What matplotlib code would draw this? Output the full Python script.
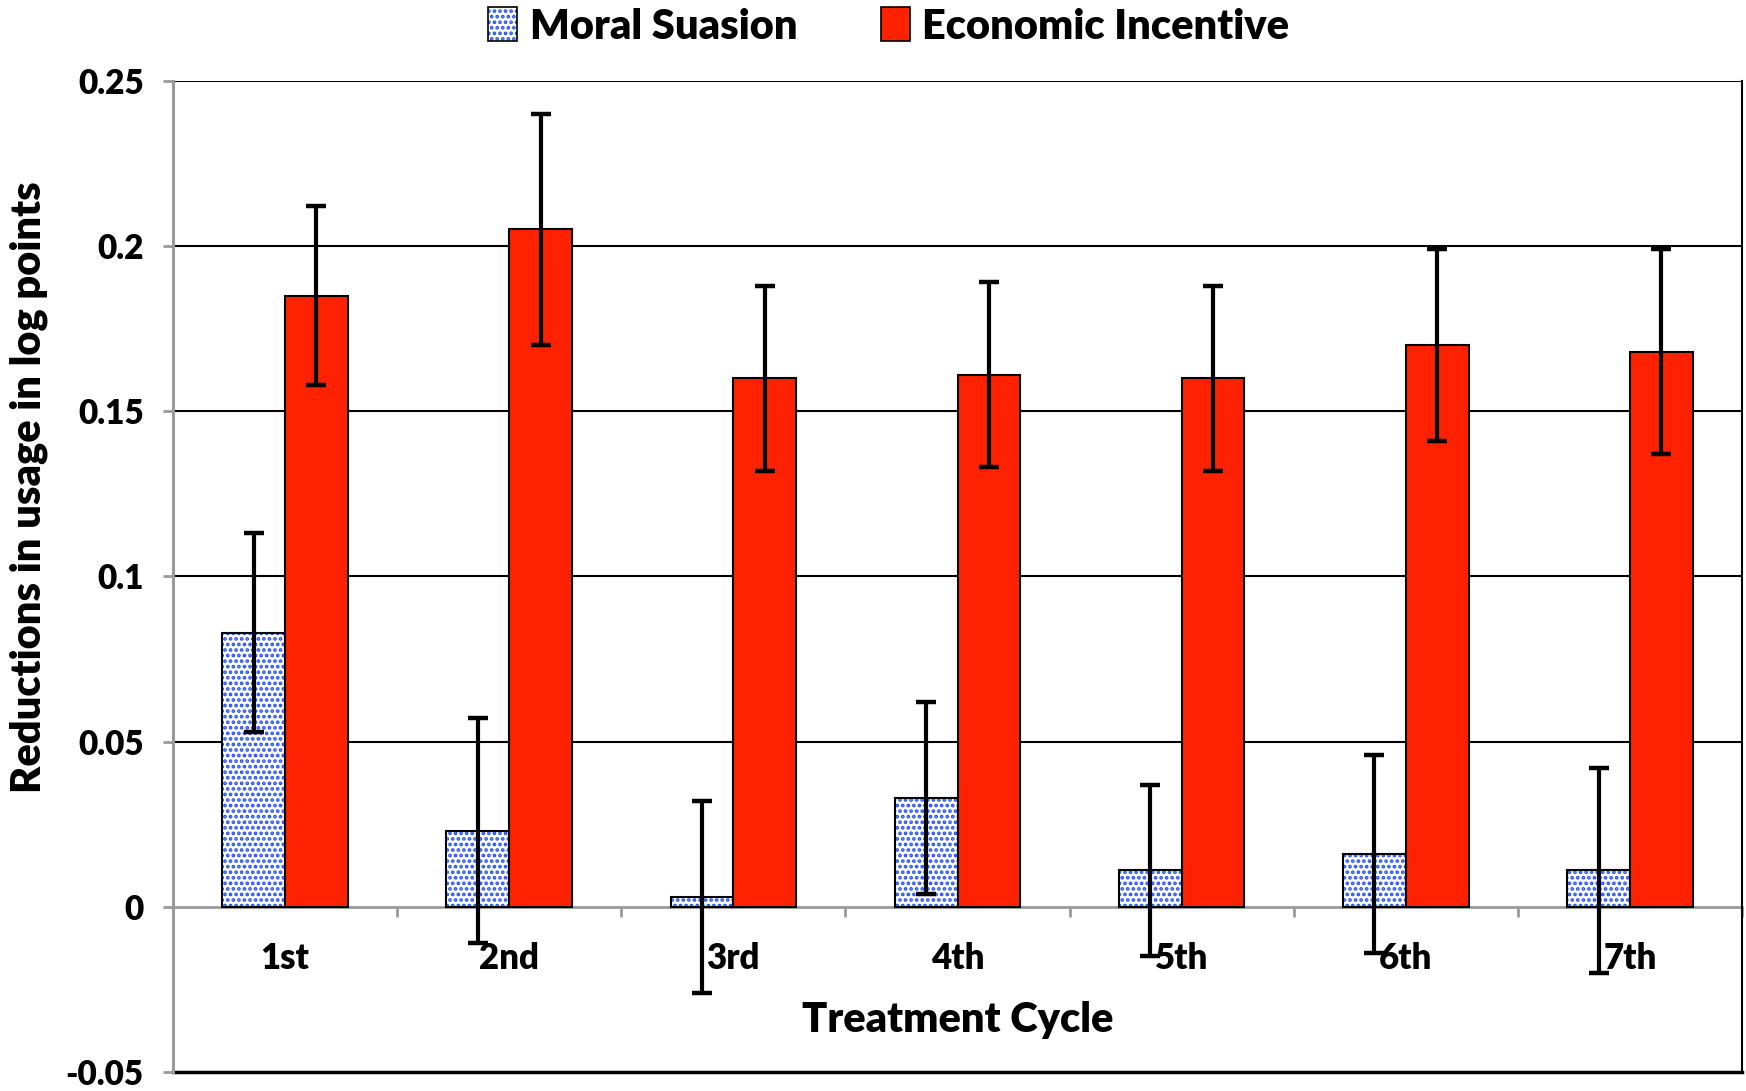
import matplotlib.pyplot as plt
import numpy as np
from matplotlib.patches import Patch
from matplotlib.legend_handler import HandlerTuple

cycles = ["1st", "2nd", "3rd", "4th", "5th", "6th", "7th"]
moral = [0.083, 0.023, 0.003, 0.033, 0.011, 0.016, 0.011]
moral_err = [0.030, 0.034, 0.029, 0.029, 0.026, 0.030, 0.031]
econ = [0.185, 0.205, 0.160, 0.161, 0.160, 0.170, 0.168]
econ_err = [0.027, 0.035, 0.028, 0.028, 0.028, 0.029, 0.031]

plt.rcParams["font.family"] = ["Lato", "DejaVu Sans"]
plt.rcParams["font.weight"] = "heavy"
plt.rcParams["hatch.linewidth"] = 1.8

fig = plt.figure(figsize=(17.46, 10.91), dpi=100)
ax = fig.add_axes([0.0991, 0.0174, 0.8986, 0.9086])

x = np.arange(len(cycles))
w = 0.28
red = "#ff2200"
dot_blue = "#1f4cff"

# moral suasion: dotted fill drawn first, black outline on top
ax.bar(x - w / 2, moral, w, color="white", edgecolor=dot_blue, hatch="...", linewidth=0, zorder=3)
ax.bar(x - w / 2, moral, w, fill=False, edgecolor="black", linewidth=1.5, zorder=3)
ax.bar(x + w / 2, econ, w, color=red, edgecolor="black", linewidth=1.5, zorder=3)

ekw = dict(fmt="none", ecolor="black", elinewidth=3, capsize=7, capthick=3.2, zorder=4)
ax.errorbar(x - w / 2, moral, yerr=moral_err, **ekw)
ax.errorbar(x + w / 2, econ, yerr=econ_err, **ekw)

ax.set_xlim(-0.5, len(cycles) - 0.5)
ax.set_ylim(-0.05, 0.25)
ax.set_yticks([-0.05, 0, 0.05, 0.1, 0.15, 0.2, 0.25])
ax.set_yticklabels(["-0.05", "0", "0.05", "0.1", "0.15", "0.2", "0.25"])
for yv in [0.05, 0.1, 0.15, 0.2, 0.25]:
    ax.axhline(yv, color="black", linewidth=1.5, zorder=1)
ax.axhline(-0.05, color="black", linewidth=2.5, zorder=1, clip_on=False)

ax.spines["bottom"].set_position(("data", 0))
ax.spines["bottom"].set_color("#9a9a9a")
ax.spines["bottom"].set_linewidth(2)
ax.spines["bottom"].set_zorder(2)
ax.spines["left"].set_color("#9a9a9a")
ax.spines["left"].set_linewidth(2.2)
ax.spines["right"].set_linewidth(1.5)
ax.spines["top"].set_visible(False)

ax.set_xticks(x)
ax.set_xticklabels(cycles)
ax.set_xticks(np.arange(len(cycles) + 1) - 0.5, minor=True)
ax.tick_params(axis="x", which="major", length=0, pad=25, labelsize=25)
ax.tick_params(axis="x", which="minor", length=7, width=2, color="#9a9a9a", direction="out")
ax.tick_params(axis="y", length=7, width=2, color="#9a9a9a", labelsize=24, pad=14)

ax.set_xlabel("Treatment Cycle", fontsize=30, fontweight="heavy")
ax.xaxis.set_label_coords(0.5, 0.072)
ax.set_ylabel("Reductions in usage in log points", fontsize=30, fontweight="heavy")
ax.yaxis.set_label_coords(-0.08, 0.59)

h_moral = (Patch(facecolor="white", edgecolor=dot_blue, hatch="...", linewidth=0),
           Patch(fill=False, edgecolor="black", linewidth=1.2))
h_econ = Patch(facecolor=red, edgecolor="black", linewidth=1.2)
fig.legend([h_moral, h_econ], ["Moral Suasion", "Economic Incentive"],
           handler_map={tuple: HandlerTuple(ndivide=1)},
           loc="center", bbox_to_anchor=(0.509, 0.976), ncol=2, frameon=False,
           fontsize=30, handlelength=0.7, handleheight=0.9, handletextpad=0.3,
           columnspacing=2.0)

fig.savefig("out.png", dpi=100)
